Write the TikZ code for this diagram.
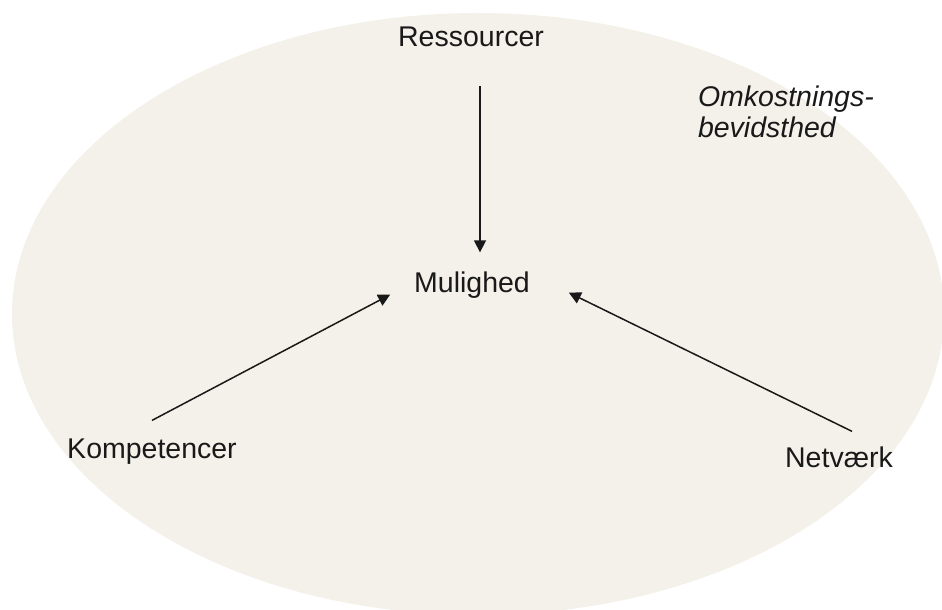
\documentclass[tikz,border=0pt]{standalone}
\usepackage{fontspec}
\setmainfont{Liberation Sans}
\usetikzlibrary{arrows.meta}
\definecolor{ellfill}{RGB}{243,241,233}
\definecolor{ink}{RGB}{25,25,25}
\begin{document}
\begin{tikzpicture}[x=1pt,y=-1pt,
  lbl/.style={inner sep=0pt,outer sep=0pt,text=ink,font=\fontsize{28.5}{30}\selectfont,anchor=base},
  arr/.style={draw=ink,line width=1.5pt,-{Triangle[width=12pt,length=12pt]}}]
\useasboundingbox (0,0) rectangle (942,610);
\fill[ellfill] (478,314) ellipse [x radius=466, y radius=301];
\node[lbl] (R) at (471,47) {Ressourcer};
\node[lbl] (M) at (472,292) {Mulighed};
\node[lbl] (K) at (152,458) {Kompetencer};
\node[lbl] (N) at (839,467) {Netværk};
\node[lbl,anchor=base west,align=left,font=\fontsize{28.5}{30.5}\selectfont\itshape] (O) at (698,137) {Omkostnings-\\bevidsthed};
\draw[arr] ([shift={(9,39)}]R.south) -- ([shift={(8,-19)}]M.north);
\draw[arr] ([shift={(0,-18)}]K.north) -- ([shift={(-24,10)}]M.west);
\draw[arr] ([shift={(13,-15)}]N.north) -- ([shift={(39,8)}]M.east);
\end{tikzpicture}
\end{document}
